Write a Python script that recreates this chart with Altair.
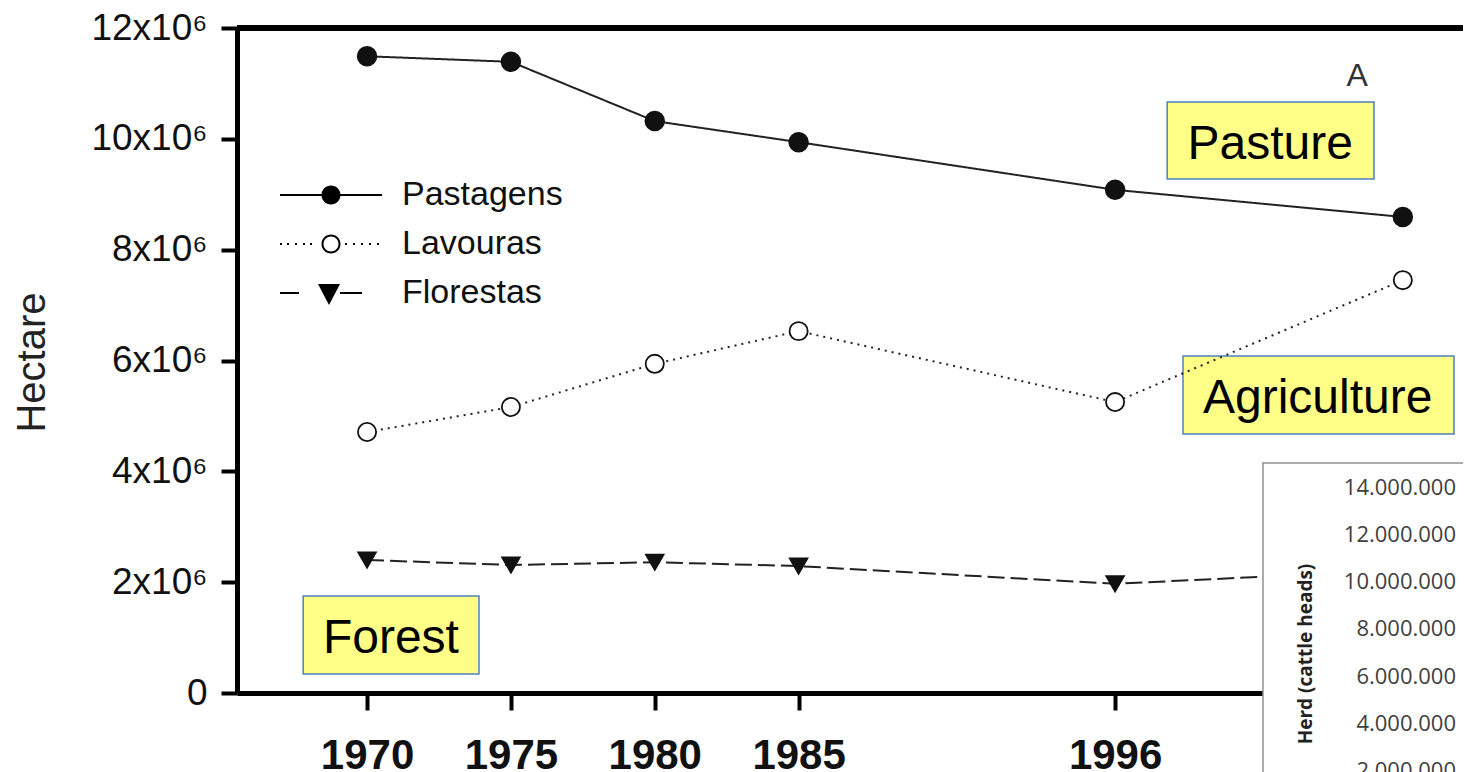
import altair as alt
import pandas as pd

# ---------------- data ----------------
years = [1970, 1975, 1980, 1985, 1996, 2006]
series_names = ["Pastagens", "Lavouras", "Florestas"]
pastagens = [11.49e6, 11.39e6, 10.32e6, 9.94e6, 9.08e6, 8.59e6]
lavouras = [4.71e6, 5.16e6, 5.94e6, 6.53e6, 5.25e6, 7.45e6]
florestas = [2.40e6, 2.31e6, 2.36e6, 2.29e6, 1.97e6, 2.22e6]

# visible year ticks (the 2006 tick sits under the inset in the original)
x_tick_years = [1970, 1975, 1980, 1985, 1996]
y_ticks = [0, 2e6, 4e6, 6e6, 8e6, 10e6, 12e6]

# inset (cattle herd) axis
herd_ticks = [2e6, 4e6, 6e6, 8e6, 10e6, 12e6, 14e6]
herd_labels = ["2.000.000", "4.000.000", "6.000.000", "8.000.000",
               "10.000.000", "12.000.000", "14.000.000"]
herd_title = "Herd (cattle heads)"

# annotation boxes (data coordinates)
box_labels = ["Pasture", "Agriculture", "Forest"]
box_x1 = [1997.81, 1998.36, 1967.78]
box_x2 = [2005.00, 2007.78, 1973.89]
box_y1 = [10.665e6, 6.081e6, 1.750e6]
box_y2 = [9.275e6, 4.674e6, 0.343e6]
box_text_x = [2001.39, 2003.04, 1970.83]
box_text_y = [9.636e6, 5.053e6, 0.722e6]

panel_letter = "A"
panel_letter_x = 2004.41
panel_letter_y = 10.953e6

# inset frame (data coordinates, extends past the crop)
inset_x1, inset_x2 = 2001.14, 2012.0
inset_y1, inset_y2 = 4.15e6, -3.0e6
inset_label_x = 2007.85
inset_title_x = 2002.64
inset_title_herd = 6.96e6

# ---------------- tables ----------------
rows = []
for name, vals in zip(series_names, [pastagens, lavouras, florestas]):
    for yr, v in zip(years, vals):
        rows.append({"year": yr, "value": v, "series": name})
df = pd.DataFrame(rows)

boxes = pd.DataFrame({"year": box_x1, "year2": box_x2, "value": box_y1,
                      "value2": box_y2, "label": box_labels})
box_text = pd.DataFrame({"year": box_text_x, "value": box_text_y, "label": box_labels})
letter_df = pd.DataFrame({"year": [panel_letter_x], "value": [panel_letter_y],
                          "label": [panel_letter]})
inset_df = pd.DataFrame({"year": [inset_x1], "year2": [inset_x2],
                         "value": [inset_y1], "value2": [inset_y2]})
herd_df = pd.DataFrame({"year": [inset_label_x] * len(herd_ticks),
                        "herd": herd_ticks, "label": herd_labels})
herd_title_df = pd.DataFrame({"year": [inset_title_x], "herd": [inset_title_herd],
                              "label": [herd_title]})
legend_df = pd.DataFrame({"year": [1990] * 3, "value": [-5e6] * 3, "series": series_names})

# ---------------- legend symbols (line + marker paths) ----------------
S = 15.0            # pixels per path unit (symbol size = (2*S)^2)
SYM_SIZE = (2 * S) ** 2


def rect(x0, x1, h=1.0):
    a, b, t = x0 / S, x1 / S, h / S
    return f"M{a:.4f},{-t:.4f}L{b:.4f},{-t:.4f}L{b:.4f},{t:.4f}L{a:.4f},{t:.4f}Z"


def circle(r, cw=True):
    q = r / S
    s = 1 if cw else 0
    return (f"M{q:.4f},0A{q:.4f},{q:.4f} 0 1,{s} {-q:.4f},0"
            f"A{q:.4f},{q:.4f} 0 1,{s} {q:.4f},0Z")


def tri_down(w, top, bottom, dx=0):
    a, b, c = (dx - w) / S, (dx + w) / S, dx / S
    return f"M{a:.4f},{top / S:.4f}L{b:.4f},{top / S:.4f}L{c:.4f},{bottom / S:.4f}Z"


path_past = rect(-51, 51) + circle(9.5)
path_lav = "".join(rect(x - 1, x + 1) for x in [-50, -43, -35, -27, -20, 15, 23, 31, 39, 47]) \
    + circle(9.5) + circle(7.5, cw=False)
path_flo = rect(-51, -32) + rect(9, 31) + tri_down(11, -9, 12, -2)

# ---------------- scales / axes ----------------
FONT = "Liberation Sans, Arial, sans-serif"
xscale = alt.Scale(domain=[1965.48, 2008.37], nice=False, zero=False)
yscale = alt.Scale(domain=[0, 12e6], nice=False, zero=False)

xaxis = alt.Axis(values=x_tick_years, format="d", title=None, grid=False,
                 domainColor="black", domainWidth=5, tickColor="black",
                 tickWidth=4, tickSize=17,
                 labelFont=FONT, labelFontWeight="bold", labelFontSize=42,
                 labelColor="#111", labelPadding=25, labelFlush=False,
                 labelOverlap=False)
yaxis = alt.Axis(values=y_ticks,
                 labelExpr="datum.value == 0 ? '0' : (datum.value/1000000) + 'x10\u2076'",
                 title="Hectare", titleFont=FONT, titleFontSize=40,
                 titleFontWeight="normal", titleColor="#222", titleAngle=270,
                 titleX=-205, titleY=334, titleAlign="center", titleBaseline="middle",
                 grid=False, domainColor="black", domainWidth=5,
                 tickColor="black", tickWidth=4, tickSize=16,
                 labelPadding=14, labelFont=FONT, labelFontSize=37, labelColor="#111")

X = lambda: alt.X("year:Q", scale=xscale, axis=xaxis)
Y = lambda: alt.Y("value:Q", scale=yscale, axis=yaxis)

# ---------------- layers ----------------
box_layer = alt.Chart(boxes).mark_rect(fill="#FFFF88", stroke="#4F81BD", strokeWidth=1.5).encode(
    x=X(), x2="year2:Q", y=Y(), y2="value2:Q")

box_text_layer = alt.Chart(box_text).mark_text(
    font=FONT, fontSize=48, color="black", align="center", baseline="alphabetic").encode(
    x=X(), y=Y(), text="label:N")

lines = alt.Chart(df).mark_line(color="#222", strokeWidth=2).encode(
    x=X(), y=Y(),
    strokeDash=alt.StrokeDash("series:N", scale=alt.Scale(domain=series_names,
                              range=[[1, 0], [2, 5], [17, 6]]), legend=None),
    detail="series:N")

points = alt.Chart(df).mark_point(filled=True, stroke="#111", strokeWidth=1.8, opacity=1).encode(
    x=X(), y=Y(),
    shape=alt.Shape("series:N", scale=alt.Scale(domain=series_names,
                    range=["circle", "circle", "triangle-down"]), legend=None),
    fill=alt.Fill("series:N", scale=alt.Scale(domain=series_names,
                  range=["#111", "white", "#111"]), legend=None),
    size=alt.Size("series:N", scale=alt.Scale(domain=series_names,
                  range=[350, 310, 560]), legend=None))

letter_layer = alt.Chart(letter_df).mark_text(
    font=FONT, fontSize=32, color="#333", align="center", baseline="alphabetic").encode(
    x=X(), y=Y(), text="label:N")

top_rule = alt.Chart(df).mark_rule(color="black", strokeWidth=5).encode(
    y=alt.datum(12e6, scale=yscale))

inset_frame = alt.Chart(inset_df).mark_rect(fill="white", stroke="#8f8f8f", strokeWidth=1.5).encode(
    x=X(), x2="year2:Q", y=Y(), y2="value2:Q")

# legend: symbol centre at x=329px (plot-relative 92), labels start at 403px
legend_layer = alt.Chart(legend_df).mark_point(
    filled=True, clip=True, size=SYM_SIZE, color="black", strokeWidth=0, opacity=1).encode(
    x=X(), y=Y(),
    shape=alt.Shape("series:N", scale=alt.Scale(domain=series_names,
                    range=[path_past, path_lav, path_flo]),
                    legend=alt.Legend(title=None, orient="none", legendX=77, legendY=150,
                                      padding=0, labelFont=FONT, labelFontSize=34,
                                      labelColor="#111", labelOffset=54, labelLimit=500,
                                      symbolSize=SYM_SIZE, symbolStrokeWidth=0,
                                      symbolFillColor="black", symbolOpacity=1,
                                      rowPadding=15)))

main = alt.layer(box_layer, lines, points, box_text_layer, letter_layer, top_rule,
                 inset_frame, legend_layer).resolve_scale(shape="independent")

herd_scale = alt.Scale(domain=[0, 14e6], range=[790.6, 459.5], nice=False, zero=False)
inset_labels = alt.Chart(herd_df).mark_text(
    font="Open Sans, Noto Sans, sans-serif", fontSize=22, color="#404040",
    align="right", baseline="middle").encode(
    x=X(), y=alt.Y("herd:Q", scale=herd_scale, axis=None), text="label:N")
inset_title = alt.Chart(herd_title_df).mark_text(
    font="Open Sans, Noto Sans, sans-serif", fontSize=19, fontWeight="bold", color="#222",
    align="center", baseline="middle", angle=270).encode(
    x=X(), y=alt.Y("herd:Q", scale=herd_scale, axis=None), text="label:N")
inset = alt.layer(inset_labels, inset_title)

chart = alt.layer(main, inset).resolve_scale(y="independent").properties(
    width=1234, height=665,
    padding={"left": 229, "top": 20, "right": -8, "bottom": 79},
    autosize=alt.AutoSizeParams(type="none"),
    background="white",
).configure_view(stroke=None)

chart.save("out.html", embed_options={"renderer": "svg", "actions": False})
